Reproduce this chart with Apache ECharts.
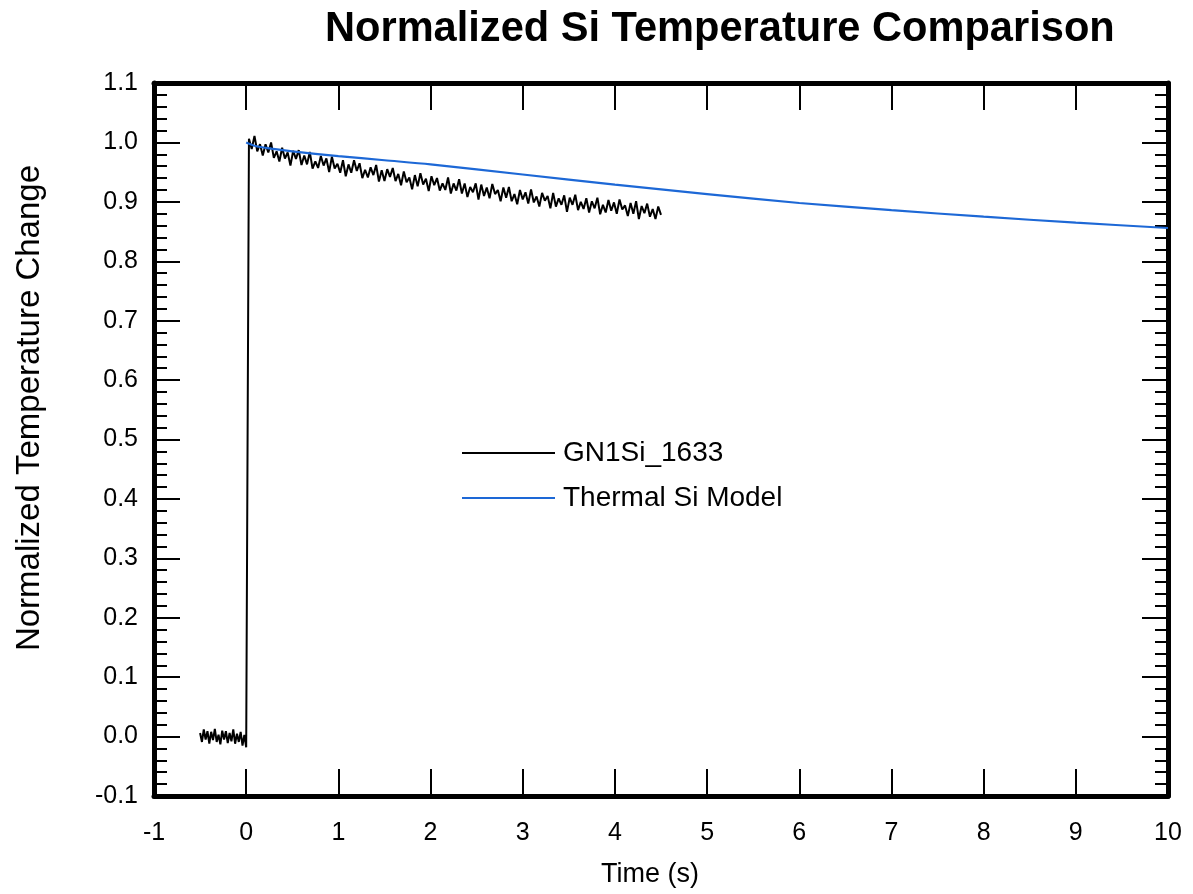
<!DOCTYPE html>
<html>
<head>
<meta charset="utf-8">
<script src="https://cdn.jsdelivr.net/npm/echarts@6/dist/echarts.min.js"></script>
<style>html,body{margin:0;padding:0;background:#fff}#c{width:1193px;height:894px}</style>
</head>
<body>
<div id="c"></div>
<script>
// ---- Data ----
const xTicks = [-1,0,1,2,3,4,5,6,7,8,9,10];
const yTicks = [-0.1,0.0,0.1,0.2,0.3,0.4,0.5,0.6,0.7,0.8,0.9,1.0,1.1];

// Measured series: pre-pulse baseline
const baseT = [-0.50,-0.48,-0.46,-0.44,-0.42,-0.40,-0.38,-0.36,-0.34,-0.32,-0.30,-0.28,-0.26,-0.24,-0.22,-0.20,-0.18,-0.16,-0.14,-0.12,-0.10,-0.08,-0.06,-0.04,-0.02,0.00];
const baseV = [0.006,-0.009,0.012,-0.005,0.009,-0.012,0.008,-0.006,0.013,-0.009,0.003,-0.013,0.010,-0.005,0.009,-0.011,0.006,-0.008,0.012,-0.012,0.005,-0.009,0.008,-0.015,0.003,-0.018];

// Measured series: after the pulse
const decayT = [0.03,0.06,0.09,0.12,0.15,0.18,0.21,0.24,0.27,0.30,
0.33,0.36,0.39,0.42,0.45,0.48,0.51,0.54,0.57,0.60,
0.63,0.66,0.69,0.72,0.75,0.78,0.81,0.84,0.87,0.90,
0.93,0.96,0.99,1.02,1.05,1.08,1.11,1.14,1.17,1.20,
1.23,1.26,1.29,1.32,1.35,1.38,1.41,1.44,1.47,1.50,
1.53,1.56,1.59,1.62,1.65,1.68,1.71,1.74,1.77,1.80,
1.83,1.86,1.89,1.92,1.95,1.98,2.01,2.04,2.07,2.10,
2.13,2.16,2.19,2.22,2.25,2.28,2.31,2.34,2.37,2.40,
2.43,2.46,2.49,2.52,2.55,2.58,2.61,2.64,2.67,2.70,
2.73,2.76,2.79,2.82,2.85,2.88,2.91,2.94,2.97,3.00,
3.03,3.06,3.09,3.12,3.15,3.18,3.21,3.24,3.27,3.30,
3.33,3.36,3.39,3.42,3.45,3.48,3.51,3.54,3.57,3.60,
3.63,3.66,3.69,3.72,3.75,3.78,3.81,3.84,3.87,3.90,
3.93,3.96,3.99,4.02,4.05,4.08,4.11,4.14,4.17,4.20,
4.23,4.26,4.29,4.32,4.35,4.38,4.41,4.44,4.47,4.50];
const decayV = [1.006,0.989,1.011,0.985,0.997,0.978,0.997,0.983,1.000,0.974,
0.985,0.968,0.991,0.973,0.983,0.961,0.986,0.972,0.987,0.962,
0.978,0.963,0.984,0.956,0.968,0.957,0.977,0.961,0.973,0.950,
0.976,0.956,0.964,0.949,0.970,0.943,0.963,0.949,0.970,0.952,
0.965,0.940,0.954,0.941,0.958,0.945,0.962,0.934,0.953,0.935,
0.955,0.942,0.957,0.935,0.947,0.928,0.951,0.933,0.941,0.921,
0.945,0.926,0.948,0.929,0.939,0.918,0.943,0.928,0.940,0.919,
0.931,0.920,0.941,0.914,0.931,0.919,0.938,0.914,0.931,0.908,
0.925,0.916,0.931,0.904,0.929,0.910,0.924,0.906,0.930,0.913,
0.920,0.901,0.924,0.907,0.925,0.901,0.913,0.896,0.920,0.904,
0.916,0.897,0.921,0.899,0.909,0.892,0.915,0.902,0.910,0.889,
0.915,0.892,0.906,0.895,0.911,0.883,0.907,0.895,0.912,0.886,
0.900,0.888,0.906,0.882,0.901,0.889,0.907,0.879,0.895,0.882,
0.903,0.885,0.899,0.880,0.904,0.887,0.894,0.876,0.898,0.880,
0.901,0.871,0.893,0.881,0.897,0.875,0.888,0.871,0.892,0.878];

// Model series
const modelT = [0,0.1,0.25,0.5,1,1.5,2,3,4,5,6,7,8,9,10];
const modelV = [1.000,0.994,0.990,0.985,0.977,0.970,0.963,0.946,0.929,0.913,0.898,0.886,0.875,0.865,0.856];

const names = ['GN1Si_1633','Thermal Si Model'];
// ---------------------------------------

const measured = baseT.map((t,i)=>[t,baseV[i]]).concat(decayT.map((t,i)=>[t,decayV[i]]));
const model = modelT.map((t,i)=>[t,modelV[i]]);

const FONT = 'Liberation Sans, Arial, Helvetica, sans-serif';
const chart = echarts.init(document.getElementById('c'), null, {renderer:'canvas'});

const axisLine = {show:true, onZero:false, lineStyle:{color:'#000', width:5}};
const majorTick = (len)=>({show:true, inside:true, length:len, lineStyle:{color:'#000', width:2}});
const minorTick = {show:true, splitNumber:5, length:13, lineStyle:{color:'#000', width:2}};

chart.setOption({
  animation:false,
  backgroundColor:'#fff',
  title:{
    text:'Normalized Si Temperature Comparison',
    left:320, top:4,
    textStyle:{fontFamily:FONT, fontWeight:'bold', fontSize:41.6, color:'#000'}
  },
  legend:{
    orient:'vertical', left:457, top:433,
    icon:'rect', itemWidth:93, itemHeight:2, itemGap:15,
    data:names,
    textStyle:{fontFamily:FONT, fontSize:28, lineHeight:30, color:'#000', padding:[0,0,0,3]}
  },
  grid:{left:154, right:25, top:83, bottom:98, containLabel:false},
  xAxis:[{
    type:'value', min:-1, max:10, interval:1, position:'bottom',
    name:'Time (s)', nameLocation:'middle', nameGap:65,
    nameTextStyle:{fontFamily:FONT, fontSize:27, color:'#000', padding:[0,22,0,0]},
    axisLine:axisLine, axisTick:majorTick(27),
    axisLabel:{fontFamily:FONT, fontSize:25, color:'#000', margin:25, formatter:v=>String(Math.round(v))},
    splitLine:{show:false}
  },{
    type:'value', min:-1, max:10, interval:1, position:'top',
    axisLine:axisLine, axisTick:majorTick(27),
    axisLabel:{show:false}, splitLine:{show:false}
  }],
  yAxis:[{
    type:'value', min:-0.1, max:1.1, interval:0.1, position:'left',
    axisLine:axisLine, axisTick:majorTick(26), minorTick:minorTick,
    axisLabel:{fontFamily:FONT, fontSize:25, color:'#000', margin:16, formatter:v=>v.toFixed(1)},
    splitLine:{show:false}
  },{
    type:'value', min:-0.1, max:1.1, interval:0.1, position:'right',
    axisLine:axisLine, axisTick:majorTick(26), minorTick:minorTick,
    axisLabel:{show:false}, splitLine:{show:false}
  }],
  graphic:[{
    type:'text', left:13, top:165,
    rotation:Math.PI/2,
    style:{text:'Normalized Temperature Change', font:'33px '+FONT, fill:'#000'}
  }],
  series:[{
    name:names[0], type:'line', xAxisIndex:0, yAxisIndex:0,
    data:measured, symbol:'none', showSymbol:false,
    lineStyle:{color:'#000', width:2}, itemStyle:{color:'#000'}, z:3
  },{
    name:names[1], type:'line', xAxisIndex:0, yAxisIndex:0,
    data:model, symbol:'none', showSymbol:false, smooth:0.3,
    lineStyle:{color:'#1d68d6', width:2.2}, itemStyle:{color:'#1d68d6'}, z:4
  }]
});
</script>
</body>
</html>
